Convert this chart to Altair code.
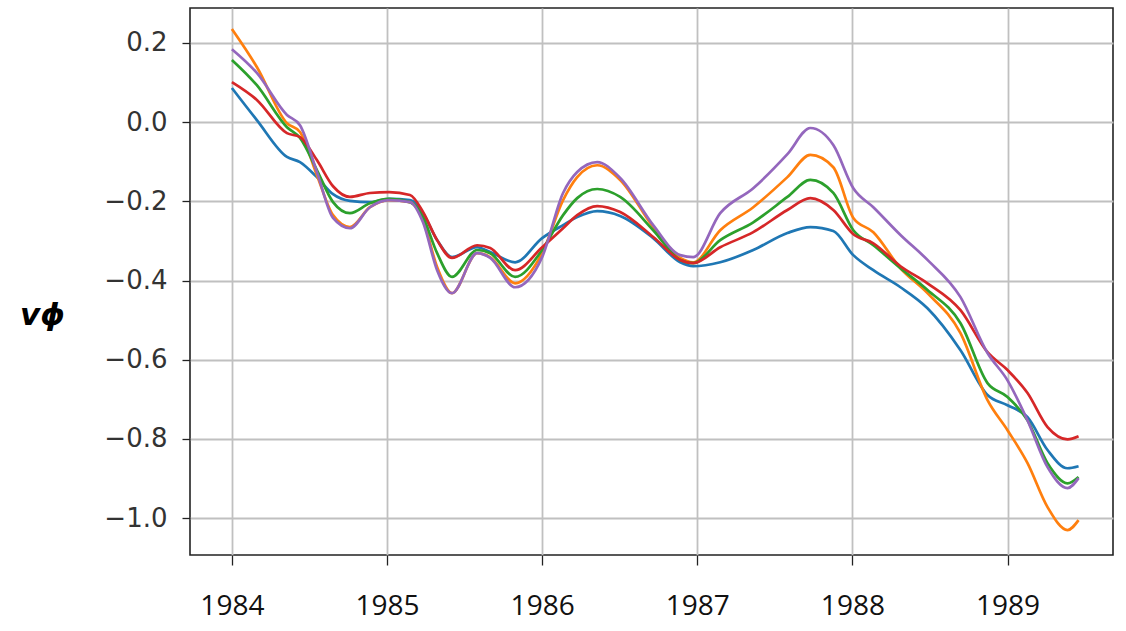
import altair as alt
import pandas as pd

# Sample times (decimal years)
years = [1984.000, 1984.161, 1984.355, 1984.439, 1984.548, 1984.652, 1984.761,
         1984.890, 1985.013, 1985.148, 1985.232, 1985.323, 1985.419, 1985.581,
         1985.665, 1985.826, 1986.000, 1986.135, 1986.226, 1986.355, 1986.503,
         1986.716, 1986.890, 1986.974, 1987.148, 1987.361, 1987.581, 1987.729,
         1987.877, 1988.006, 1988.135, 1988.310, 1988.484, 1988.697, 1988.871,
         1989.000, 1989.129, 1989.258, 1989.387, 1989.458]

# v_phi series, one list per curve
blue = [0.086, 0.005, -0.088, -0.101, -0.139, -0.182, -0.199, -0.202, -0.194, -0.197,
        -0.230, -0.298, -0.341, -0.316, -0.328, -0.354, -0.293, -0.260, -0.240, -0.225,
        -0.237, -0.293, -0.354, -0.364, -0.354, -0.323, -0.280, -0.265, -0.275, -0.336,
        -0.374, -0.417, -0.470, -0.576, -0.689, -0.715, -0.745, -0.828, -0.874, -0.869]
orange = [0.235, 0.139, -0.003, -0.025, -0.134, -0.235, -0.265, -0.215, -0.197, -0.202,
          -0.247, -0.366, -0.432, -0.331, -0.341, -0.407, -0.331, -0.197, -0.139, -0.109,
          -0.146, -0.265, -0.343, -0.354, -0.273, -0.215, -0.139, -0.083, -0.114, -0.242,
          -0.278, -0.369, -0.432, -0.533, -0.702, -0.778, -0.861, -0.972, -1.030, -1.005]
green = [0.157, 0.093, -0.013, -0.040, -0.121, -0.202, -0.230, -0.205, -0.194, -0.202,
         -0.240, -0.331, -0.391, -0.323, -0.331, -0.391, -0.323, -0.235, -0.192, -0.169,
         -0.189, -0.273, -0.348, -0.356, -0.298, -0.253, -0.189, -0.146, -0.179, -0.273,
         -0.311, -0.369, -0.424, -0.508, -0.659, -0.694, -0.753, -0.861, -0.912, -0.896]
red = [0.101, 0.056, -0.028, -0.038, -0.096, -0.162, -0.189, -0.179, -0.177, -0.184,
       -0.227, -0.298, -0.343, -0.311, -0.318, -0.374, -0.316, -0.268, -0.235, -0.212,
       -0.227, -0.290, -0.348, -0.356, -0.316, -0.278, -0.222, -0.192, -0.222, -0.283,
       -0.306, -0.364, -0.407, -0.475, -0.581, -0.626, -0.684, -0.770, -0.801, -0.793]
purple = [0.184, 0.124, 0.018, -0.008, -0.126, -0.242, -0.268, -0.215, -0.197, -0.202,
          -0.253, -0.374, -0.432, -0.331, -0.343, -0.417, -0.341, -0.179, -0.126, -0.101,
          -0.141, -0.260, -0.336, -0.341, -0.230, -0.167, -0.081, -0.015, -0.058, -0.167,
          -0.215, -0.285, -0.348, -0.442, -0.583, -0.652, -0.753, -0.871, -0.924, -0.899]

series = [("#1f77b4", blue), ("#ff7f0e", orange), ("#2ca02c", green),
          ("#d62728", red), ("#9467bd", purple)]

year_ticks = [1984, 1985, 1986, 1987, 1988, 1989]
v_ticks = [-1.0, -0.8, -0.6, -0.4, -0.2, 0.0, 0.2]

x_scale = alt.Scale(domain=[1983.73, 1989.68], nice=False, zero=False)
y_scale = alt.Scale(domain=[-1.093, 0.288], nice=False, zero=False)

x_axis = alt.Axis(values=year_ticks, format="d", title=None, grid=True,
                  labelFont="Liberation Sans Narrow, Open Sans, sans-serif",
                  labelFontSize=28, labelColor="#111", labelPadding=27,
                  tickSize=10, tickColor="#222", tickWidth=1.3, domain=False)
y_axis = alt.Axis(values=v_ticks, format=".1f", grid=True,
                  title="vϕ", titleAngle=0, titleFontSize=31,
                  titleFontStyle="italic", titleFontWeight="bold",
                  titleFont="DejaVu Sans", titleColor="#000",
                  titleX=-148, titleY=307, titleAlign="center", titleBaseline="middle",
                  labelFont="DejaVu Sans", labelFontSize=26, labelColor="#333",
                  labelPadding=15, tickSize=8, tickColor="#222", tickWidth=1.3,
                  domain=False)

layers = []
for i, (color, vals) in enumerate(series):
    df = pd.DataFrame({"year": years, "v": vals})
    if i == 0:
        enc_x = alt.X("year:Q", scale=x_scale, axis=x_axis)
        enc_y = alt.Y("v:Q", scale=y_scale, axis=y_axis)
    else:
        enc_x = alt.X("year:Q", scale=x_scale)
        enc_y = alt.Y("v:Q", scale=y_scale)
    layers.append(
        alt.Chart(df).mark_line(color=color, strokeWidth=2.7, interpolate="monotone")
        .encode(x=enc_x, y=enc_y)
    )

chart = (
    alt.layer(*layers)
    .properties(width=923, height=547, background="white",
                padding={"left": 190, "top": 8, "right": 13, "bottom": 76},
                autosize=alt.AutoSizeParams(type="none"))
    .configure_view(stroke="#222", strokeWidth=1.6)
    .configure_axis(gridColor="#c0c0c0", gridWidth=1.8)
)

chart.save("out.html", embed_options={"renderer": "svg", "actions": False})
